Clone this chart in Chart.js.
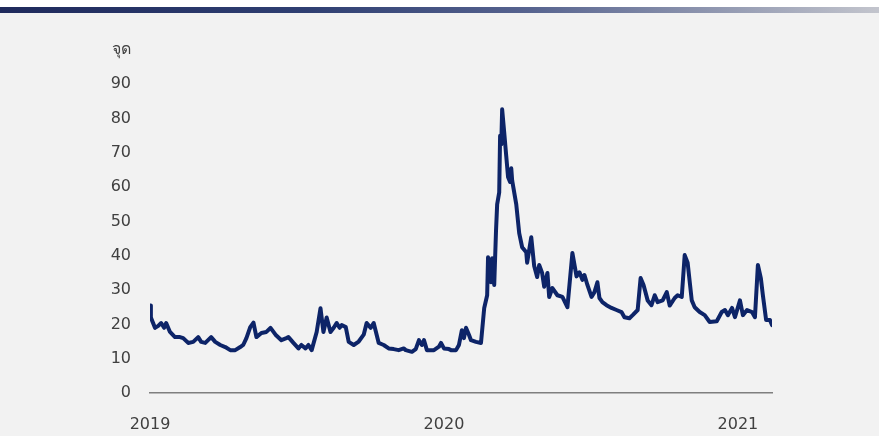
<!DOCTYPE html>
<html>
<head>
<meta charset="utf-8">
<script src="https://cdn.jsdelivr.net/npm/chart.js@4"></script>
<style>
  html, body { margin: 0; padding: 0; background: #fff; }
  #wrap { width: 879px; height: 436px; position: relative; }
</style>
</head>
<body>
<div id="wrap"><canvas id="myChart"></canvas></div>
<script>
// dates as decimal years, values in index points
const dates = [
  2019.000, 2019.003, 2019.017, 2019.027, 2019.038, 2019.048, 2019.055, 2019.068, 2019.085, 2019.102,
  2019.113, 2019.130, 2019.147, 2019.164, 2019.174, 2019.188, 2019.208, 2019.222, 2019.239, 2019.256,
  2019.273, 2019.290, 2019.307, 2019.317, 2019.328, 2019.341, 2019.352, 2019.362, 2019.379, 2019.396,
  2019.410, 2019.427, 2019.447, 2019.464, 2019.471, 2019.488, 2019.505, 2019.515, 2019.529, 2019.539,
  2019.550, 2019.567, 2019.580, 2019.590, 2019.601, 2019.614, 2019.625, 2019.635, 2019.645, 2019.652,
  2019.666, 2019.676, 2019.693, 2019.710, 2019.727, 2019.737, 2019.751, 2019.761, 2019.778, 2019.795,
  2019.812, 2019.829, 2019.846, 2019.863, 2019.870, 2019.891, 2019.904, 2019.915, 2019.925, 2019.932,
  2019.942, 2019.966, 2019.983, 2019.990, 2020.000, 2020.017, 2020.024, 2020.041, 2020.051, 2020.061,
  2020.068, 2020.075, 2020.085, 2020.092, 2020.109, 2020.126, 2020.137, 2020.147, 2020.150, 2020.160,
  2020.164, 2020.171, 2020.177, 2020.181, 2020.188, 2020.191, 2020.195, 2020.198, 2020.205, 2020.212,
  2020.218, 2020.225, 2020.229, 2020.232, 2020.246, 2020.256, 2020.266, 2020.280, 2020.283, 2020.297,
  2020.307, 2020.317, 2020.324, 2020.334, 2020.341, 2020.352, 2020.358, 2020.369, 2020.386, 2020.403,
  2020.420, 2020.437, 2020.451, 2020.461, 2020.471, 2020.478, 2020.488, 2020.502, 2020.512, 2020.522,
  2020.529, 2020.539, 2020.553, 2020.570, 2020.587, 2020.604, 2020.614, 2020.631, 2020.642, 2020.659,
  2020.669, 2020.679, 2020.693, 2020.706, 2020.717, 2020.727, 2020.744, 2020.758, 2020.768, 2020.785,
  2020.795, 2020.809, 2020.819, 2020.829, 2020.843, 2020.853, 2020.870, 2020.887, 2020.904, 2020.928,
  2020.945, 2020.956, 2020.966, 2020.980, 2020.990, 2021.007, 2021.017, 2021.031, 2021.048, 2021.058,
  2021.068, 2021.078, 2021.085, 2021.096, 2021.109, 2021.116
];
const vix = [
  25.5, 22.0, 19.0, 19.5, 20.4, 19.0, 20.4, 17.8, 16.3, 16.3,
  16.0, 14.6, 14.9, 16.3, 14.9, 14.6, 16.3, 14.9, 14.0, 13.4,
  12.5, 12.5, 13.4, 14.0, 16.0, 19.2, 20.5, 16.3, 17.5, 17.8,
  19.0, 17.0, 15.4, 16.0, 16.3, 14.6, 13.0, 14.0, 13.0, 14.0,
  12.5, 17.8, 24.7, 17.8, 22.0, 17.8, 19.0, 20.4, 19.0, 19.8,
  19.2, 14.9, 14.0, 15.0, 17.0, 20.4, 19.0, 20.4, 14.6, 14.0,
  13.0, 12.8, 12.5, 13.0, 12.5, 12.0, 12.8, 15.4, 14.0, 15.4,
  12.5, 12.5, 13.5, 14.6, 13.0, 12.8, 12.5, 12.5, 14.0, 18.3,
  16.0, 19.0, 17.0, 15.4, 14.9, 14.6, 24.8, 28.5, 39.6, 32.3,
  39.3, 31.5, 47.0, 55.0, 58.5, 75.0, 72.5, 82.7, 76.0, 69.0,
  63.0, 61.5, 65.5, 62.0, 55.0, 46.6, 42.5, 41.0, 38.0, 45.4,
  37.0, 33.8, 37.3, 35.0, 31.0, 35.0, 28.0, 30.6, 28.5, 28.0,
  25.0, 40.8, 34.0, 35.2, 33.0, 34.4, 31.5, 28.0, 29.4, 32.3,
  27.7, 26.5, 25.6, 24.8, 24.2, 23.6, 22.1, 21.8, 22.7, 24.2,
  33.5, 31.5, 27.0, 25.6, 28.5, 26.5, 27.0, 29.4, 25.5, 27.7,
  28.5, 28.0, 40.2, 38.0, 27.0, 25.0, 23.6, 22.7, 20.7, 20.9,
  23.6, 24.2, 22.7, 24.8, 22.1, 27.0, 22.7, 24.2, 23.6, 22.1,
  37.3, 33.5, 28.5, 21.3, 21.3, 19.8
];
const yearTicks = [2019, 2020, 2021];
const yUnit = 'จุด';

const points = dates.map((d, i) => ({ x: d, y: vix[i] }));

// page background: white strip, gradient bar, light grey panel
const backdrop = {
  id: 'backdrop',
  beforeDraw(chart) {
    const c = chart.ctx;
    const w = chart.width, h = chart.height;
    c.save();
    c.fillStyle = '#ffffff';
    c.fillRect(0, 0, w, h);
    c.fillStyle = '#f2f2f2';
    c.fillRect(0, 13, w, h - 13);
    const g = c.createLinearGradient(0, 0, w, 0);
    g.addColorStop(0, '#1f2a5c');
    g.addColorStop(0.35, '#2f3f72');
    g.addColorStop(0.6, '#56638f');
    g.addColorStop(1, '#c3c5cd');
    c.fillStyle = g;
    c.fillRect(0, 7, w, 6);
    c.restore();
  }
};

const ctx = document.getElementById('myChart').getContext('2d');

const myChart = new Chart(ctx, {
  type: 'line',
  data: {
    datasets: [{
      data: points,
      borderColor: '#0d2468',
      borderWidth: 4,
      borderJoinStyle: 'round',
      borderCapStyle: 'round',
      pointRadius: 0,
      tension: 0,
      fill: false
    }]
  },
  options: {
    responsive: true,
    maintainAspectRatio: false,
    animation: false,
    events: [],
    layout: { padding: { top: 50, right: 107, bottom: 0, left: 0 } },
    plugins: {
      legend: { display: false },
      tooltip: { enabled: false }
    },
    scales: {
      x: {
        type: 'linear',
        min: 2019,
        max: 2021.116,
        afterBuildTicks: (axis) => {
          axis.ticks = yearTicks.map(v => ({ value: v }));
        },
        afterFit: (axis) => { axis.height = 43; },
        grid: { display: false, drawTicks: false },
        border: { display: true, color: '#7f7f7f', width: 1.5 },
        ticks: {
          padding: 22,
          maxRotation: 0,
          color: '#404040',
          font: { family: 'DejaVu Sans', size: 16 },
          callback: (v) => String(v)
        }
      },
      y: {
        min: 0,
        max: 100,
        afterFit: (axis) => { axis.width = 150; },
        grid: { display: false, drawTicks: false },
        border: { display: false },
        ticks: {
          stepSize: 10,
          padding: 19,
          color: '#404040',
          font: { family: 'DejaVu Sans', size: 16 },
          callback: (v) => v === 100 ? yUnit : v
        }
      }
    }
  },
  plugins: [backdrop]
});
</script>
</body>
</html>
